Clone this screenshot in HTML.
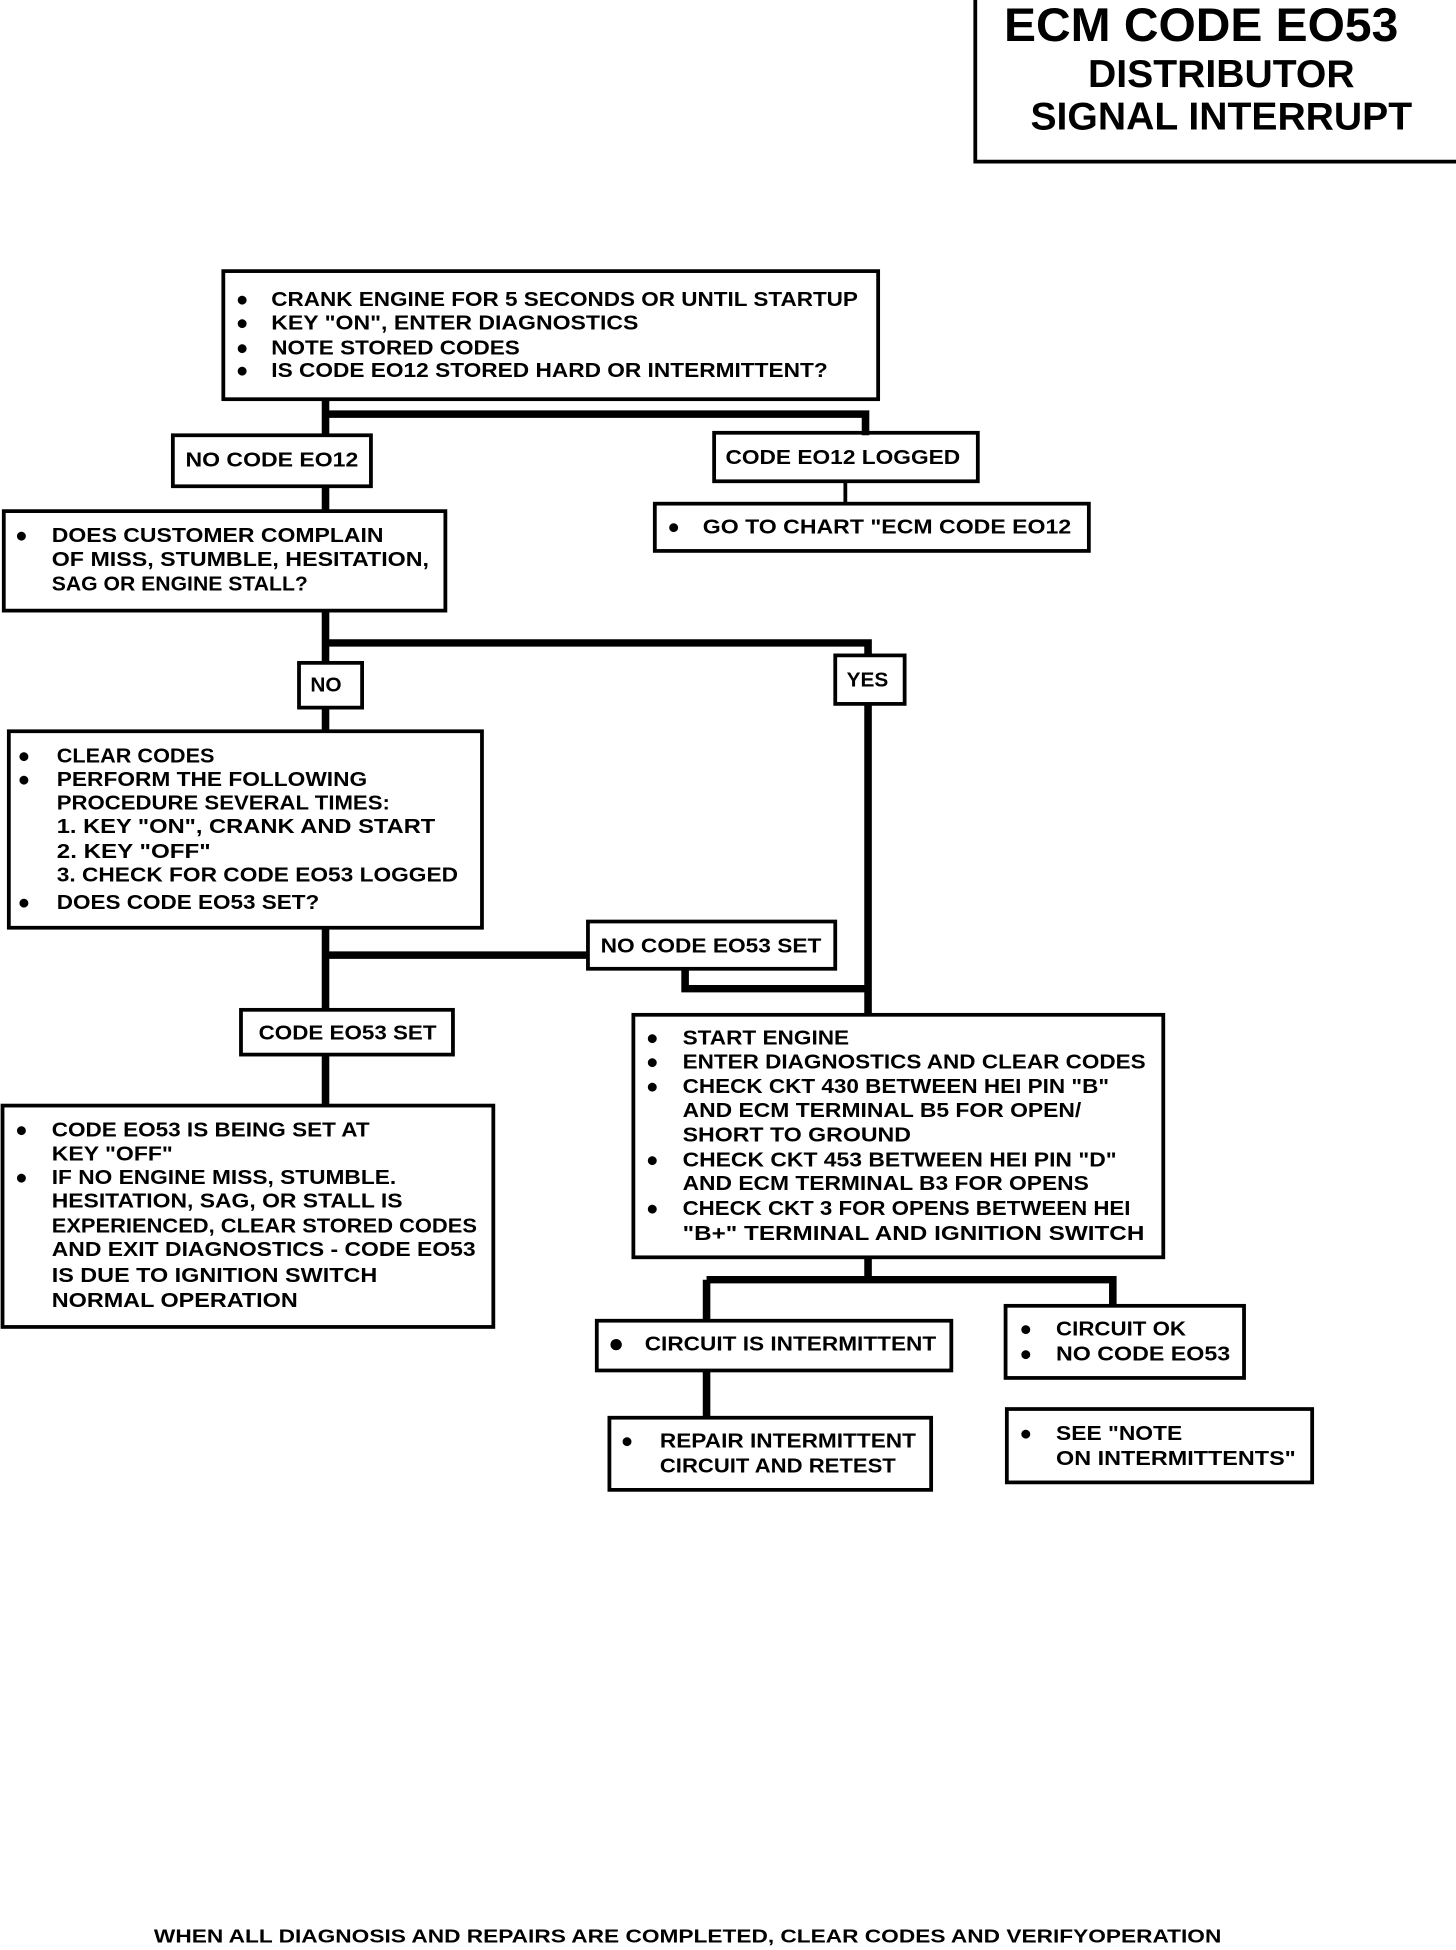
<!DOCTYPE html>
<html><head><meta charset="utf-8"><style>
html,body{margin:0;padding:0;background:#fff;width:1456px;height:1950px;overflow:hidden}
svg{display:block}
text{font-family:"Liberation Sans",sans-serif;font-weight:bold;font-size:16.5px;fill:#000}
.b{fill:none;stroke:#000;stroke-width:3}
.c{fill:none;stroke:#000;stroke-width:6}
.t{stroke:#000;stroke-width:3;fill:none}
</style></head><body>
<svg width="1456" height="1950" viewBox="0 0 1154 1568" preserveAspectRatio="none">
<!-- title -->
<path class="b" d="M773 0 V130 H1154"/>
<text x="952" y="33" font-size="38" text-anchor="middle" style="font-size:38px">ECM CODE EO53</text>
<text x="968" y="70" text-anchor="middle" style="font-size:31px">DISTRIBUTOR</text>
<text x="968" y="104" text-anchor="middle" style="font-size:31px">SIGNAL INTERRUPT</text>

<!-- connectors -->
<path class="c" d="M258 321 V350 M258 333 H686 V350"/>
<path class="t" d="M670 387 V405"/>
<path class="c" d="M258 391 V411"/>
<path class="c" d="M258 491 V533 M258 517 H688 V527"/>
<path class="c" d="M258 569 V588"/>
<path class="c" d="M688 566 V816"/>
<path class="c" d="M258 746 V812 M258 768 H466"/>
<path class="c" d="M543 779 V795 H688"/>
<path class="c" d="M258 848 V889"/>
<path class="c" d="M688 1011 V1029 M560 1029 H882 V1050 M560 1029 V1062"/>
<path class="c" d="M560 1102 V1140"/>

<!-- box1 -->
<rect class="b" x="177" y="218" width="519" height="103"/>
<g>
<text x="187" y="246">●</text><text x="215" y="246" textLength="465" lengthAdjust="spacingAndGlyphs">CRANK ENGINE FOR 5 SECONDS OR UNTIL STARTUP</text>
<text x="187" y="265">●</text><text x="215" y="265" textLength="291" lengthAdjust="spacingAndGlyphs">KEY "ON", ENTER DIAGNOSTICS</text>
<text x="187" y="285">●</text><text x="215" y="285" textLength="197" lengthAdjust="spacingAndGlyphs">NOTE STORED CODES</text>
<text x="187" y="303">●</text><text x="215" y="303" textLength="441" lengthAdjust="spacingAndGlyphs">IS CODE EO12 STORED HARD OR INTERMITTENT?</text>
</g>
<rect class="b" x="137" y="350" width="157" height="41"/>
<text x="147" y="375" textLength="137" lengthAdjust="spacingAndGlyphs">NO CODE EO12</text>
<rect class="b" x="566" y="348" width="209" height="39"/>
<text x="575" y="373" textLength="186" lengthAdjust="spacingAndGlyphs">CODE EO12 LOGGED</text>
<rect class="b" x="519" y="405" width="344" height="38"/>
<text x="529" y="429">●</text><text x="557" y="429" textLength="292" lengthAdjust="spacingAndGlyphs">GO TO CHART "ECM CODE EO12</text>

<rect class="b" x="3" y="411" width="350" height="80"/>
<text x="12" y="436">●</text><text x="41" y="436" textLength="263" lengthAdjust="spacingAndGlyphs">DOES CUSTOMER COMPLAIN</text>
<text x="41" y="455" textLength="299" lengthAdjust="spacingAndGlyphs">OF MISS, STUMBLE, HESITATION,</text>
<text x="41" y="475" textLength="203" lengthAdjust="spacingAndGlyphs">SAG OR ENGINE STALL?</text>

<rect class="b" x="237" y="533" width="50" height="36"/>
<text x="246" y="556">NO</text>
<rect class="b" x="662" y="527" width="55" height="39"/>
<text x="671" y="552">YES</text>

<rect class="b" x="7" y="588" width="375" height="158"/>
<text x="14" y="613">●</text><text x="45" y="613" textLength="125" lengthAdjust="spacingAndGlyphs">CLEAR CODES</text>
<text x="14" y="632">●</text><text x="45" y="632" textLength="246" lengthAdjust="spacingAndGlyphs">PERFORM THE FOLLOWING</text>
<text x="45" y="651" textLength="264" lengthAdjust="spacingAndGlyphs">PROCEDURE SEVERAL TIMES:</text>
<text x="45" y="670" textLength="300" lengthAdjust="spacingAndGlyphs">1. KEY "ON", CRANK AND START</text>
<text x="45" y="690" textLength="122" lengthAdjust="spacingAndGlyphs">2. KEY "OFF"</text>
<text x="45" y="709" textLength="318" lengthAdjust="spacingAndGlyphs">3. CHECK FOR CODE EO53 LOGGED</text>
<text x="14" y="731">●</text><text x="45" y="731" textLength="208" lengthAdjust="spacingAndGlyphs">DOES CODE EO53 SET?</text>

<rect class="b" x="466" y="741" width="196" height="38"/>
<text x="476" y="766" textLength="175" lengthAdjust="spacingAndGlyphs">NO CODE EO53 SET</text>

<rect class="b" x="191" y="812" width="168" height="36"/>
<text x="205" y="836" textLength="141" lengthAdjust="spacingAndGlyphs">CODE EO53 SET</text>

<rect class="b" x="2" y="889" width="389" height="178"/>
<text x="12" y="914">●</text><text x="41" y="914" textLength="252" lengthAdjust="spacingAndGlyphs">CODE EO53 IS BEING SET AT</text>
<text x="41" y="933" textLength="96" lengthAdjust="spacingAndGlyphs">KEY "OFF"</text>
<text x="12" y="952">●</text><text x="41" y="952" textLength="273" lengthAdjust="spacingAndGlyphs">IF NO ENGINE MISS, STUMBLE.</text>
<text x="41" y="971" textLength="278" lengthAdjust="spacingAndGlyphs">HESITATION, SAG, OR STALL IS</text>
<text x="41" y="991" textLength="337" lengthAdjust="spacingAndGlyphs">EXPERIENCED, CLEAR STORED CODES</text>
<text x="41" y="1010" textLength="336" lengthAdjust="spacingAndGlyphs">AND EXIT DIAGNOSTICS - CODE EO53</text>
<text x="41" y="1031" textLength="258" lengthAdjust="spacingAndGlyphs">IS DUE TO IGNITION SWITCH</text>
<text x="41" y="1051" textLength="195" lengthAdjust="spacingAndGlyphs">NORMAL OPERATION</text>

<rect class="b" x="502" y="816" width="420" height="195"/>
<text x="512" y="840">●</text><text x="541" y="840" textLength="132" lengthAdjust="spacingAndGlyphs">START ENGINE</text>
<text x="512" y="859">●</text><text x="541" y="859" textLength="367" lengthAdjust="spacingAndGlyphs">ENTER DIAGNOSTICS AND CLEAR CODES</text>
<text x="512" y="879">●</text><text x="541" y="879" textLength="338" lengthAdjust="spacingAndGlyphs">CHECK CKT 430 BETWEEN HEI PIN "B"</text>
<text x="541" y="898" textLength="316" lengthAdjust="spacingAndGlyphs">AND ECM TERMINAL B5 FOR OPEN/</text>
<text x="541" y="918" textLength="181" lengthAdjust="spacingAndGlyphs">SHORT TO GROUND</text>
<text x="512" y="938">●</text><text x="541" y="938" textLength="344" lengthAdjust="spacingAndGlyphs">CHECK CKT 453 BETWEEN HEI PIN "D"</text>
<text x="541" y="957" textLength="322" lengthAdjust="spacingAndGlyphs">AND ECM TERMINAL B3 FOR OPENS</text>
<text x="512" y="977">●</text><text x="541" y="977" textLength="355" lengthAdjust="spacingAndGlyphs">CHECK CKT 3 FOR OPENS BETWEEN HEI</text>
<text x="541" y="997" textLength="366" lengthAdjust="spacingAndGlyphs">"B+" TERMINAL AND IGNITION SWITCH</text>

<rect class="b" x="473" y="1062" width="281" height="40"/>
<text x="482" y="1087" style="font-size:21px">●</text><text x="511" y="1086" textLength="231" lengthAdjust="spacingAndGlyphs">CIRCUIT IS INTERMITTENT</text>

<rect class="b" x="797" y="1050" width="189" height="58"/>
<text x="808" y="1074">●</text><text x="837" y="1074" textLength="103" lengthAdjust="spacingAndGlyphs">CIRCUIT OK</text>
<text x="808" y="1094">●</text><text x="837" y="1094" textLength="138" lengthAdjust="spacingAndGlyphs">NO CODE EO53</text>

<rect class="b" x="483" y="1140" width="255" height="58"/>
<text x="492" y="1164">●</text><text x="523" y="1164" textLength="203" lengthAdjust="spacingAndGlyphs">REPAIR INTERMITTENT</text>
<text x="523" y="1184" textLength="187" lengthAdjust="spacingAndGlyphs">CIRCUIT AND RETEST</text>

<rect class="b" x="798" y="1133" width="242" height="59"/>
<text x="808" y="1158">●</text><text x="837" y="1158" textLength="100" lengthAdjust="spacingAndGlyphs">SEE "NOTE</text>
<text x="837" y="1178" textLength="190" lengthAdjust="spacingAndGlyphs">ON INTERMITTENTS"</text>

<text x="122" y="1562" textLength="846" lengthAdjust="spacingAndGlyphs" style="font-size:15px">WHEN ALL DIAGNOSIS AND REPAIRS ARE COMPLETED, CLEAR CODES AND VERIFYOPERATION</text>
</svg>
</body></html>
